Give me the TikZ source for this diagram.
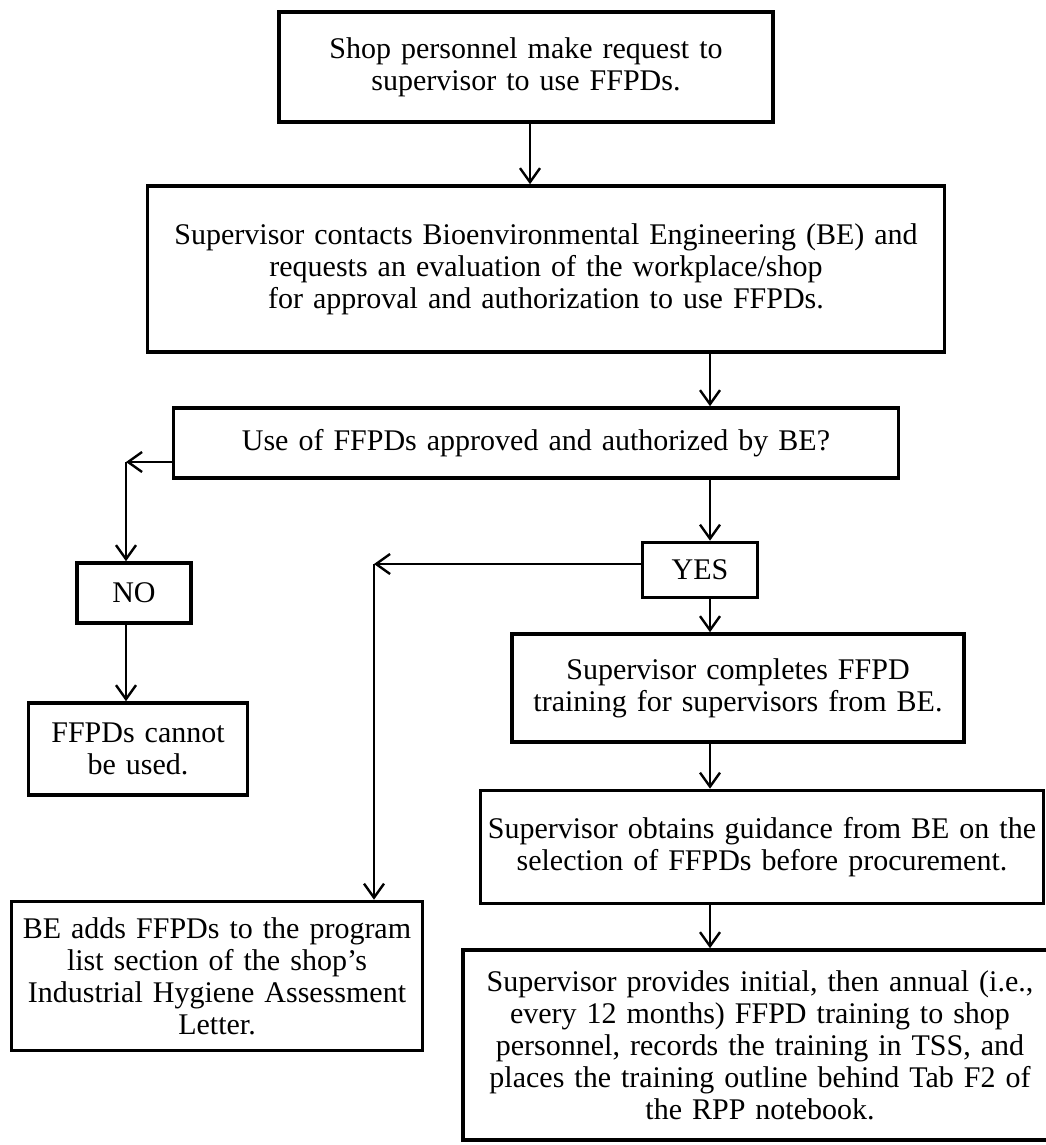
\documentclass[tikz,border=0pt]{standalone}
\usepackage{fontspec}
\setmainfont{Liberation Serif}
\usetikzlibrary{arrows.meta}

\begin{document}
\begin{tikzpicture}
[x=1pt,y=-1pt,
  lineDecorate/.style={-{Straight Barb[length=14pt,width=20pt,line width=2.4pt]},line width=2.4pt},
  plainDecorate/.style={-,line width=2.4pt},
  nodeDecorate/.style={shape=rectangle,draw,line width=3.6pt,inner sep=0pt,align=center,
    font=\fontsize{30}{32}\selectfont}]
\useasboundingbox (0,0) rectangle (1046,1145);
%% boxes
\foreach \nodename/\x/\y/\w/\h/\txt in {
  req/526/67/494/110/{Shop personnel make request to\\supervisor to use FFPDs.},
  contact/546/269/797/166/{Supervisor contacts Bioenvironmental Engineering (BE) and\\requests an evaluation of the workplace/shop\\for approval and authorization to use FFPDs.},
  approve/536/443/725/70/{Use of FFPDs approved and authorized by BE?},
  no/134/593/114/60/{NO},
  cannot/138/749/219/92/{FFPDs cannot\\be used.},
  yes/700/570/115/55/{YES},
  train/738/688/452/108/{Supervisor completes FFPD\\training for supervisors from BE.},
  guide/762/847/563/113/{Supervisor obtains guidance from BE on the\\selection of FFPDs before procurement.},
  last/760/1045/594/190/{Supervisor provides initial, then annual (i.e.,\\every 12 months) FFPD training to shop\\personnel, records the training in TSS, and\\places the training outline behind Tab F2 of\\the RPP notebook.},
  be/217/976/411/149/{BE adds FFPDs to the program\\list section of the shop's\\Industrial Hygiene Assessment\\Letter.}}
{
  \node (\nodename) at (\x,\y) [nodeDecorate,text width=\w,minimum height=\h] {\txt};
}
%% bends
\coordinate (topx) at (530,0);
\coordinate (spine) at (710,0);
\coordinate (nocorner) at (126,462);
\coordinate (yescorner) at (374,564);
%% arrows
\path
\foreach \startnode/\endnode/\col in {
  req/contact/topx, contact/approve/spine, approve/yes/spine, yes/train/spine,
  train/guide/spine, guide/last/spine, no/cannot/nocorner}
{
  (\startnode.south -| \col) edge[lineDecorate] (\endnode.north -| \col)
};
\draw[lineDecorate] (approve.west |- nocorner) -- (nocorner);
\draw[lineDecorate] (nocorner) -- (nocorner |- no.north);
\draw[lineDecorate] (yes.west |- yescorner) -- (yescorner);
\draw[lineDecorate] (yescorner) -- (yescorner |- be.north);
\end{tikzpicture}
\end{document}
